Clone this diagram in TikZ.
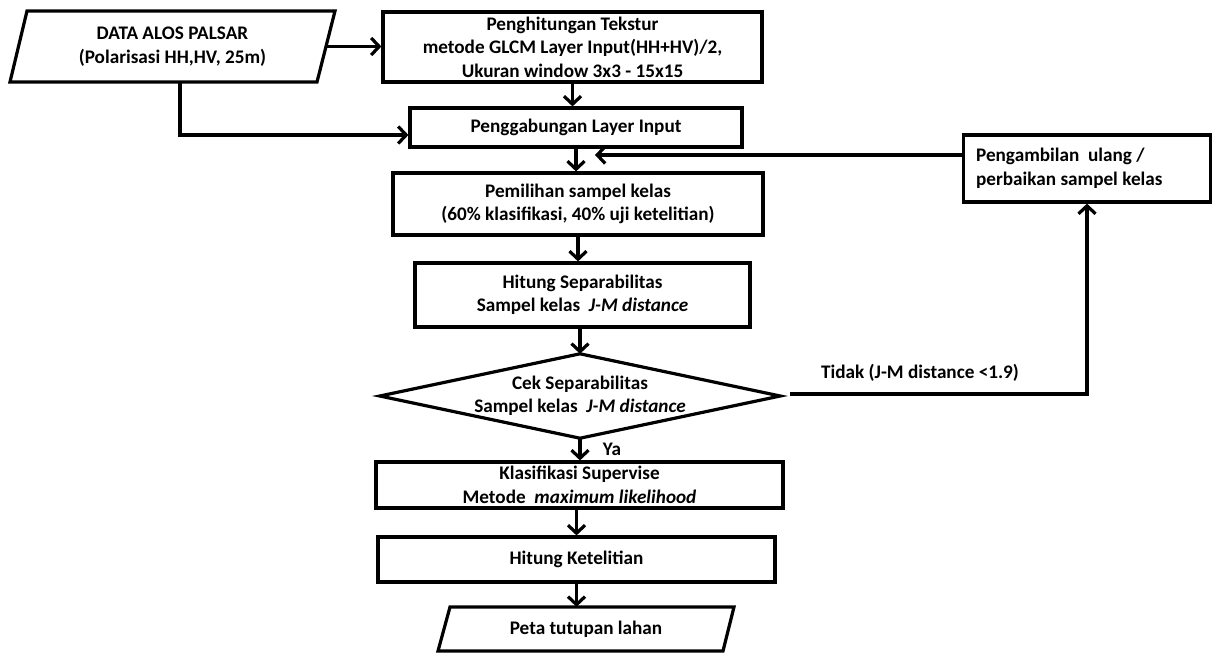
\documentclass[tikz,border=0pt]{standalone}
\usepackage{fontspec}
\setmainfont{Carlito}
\usetikzlibrary{arrows.meta}
\begin{document}
\begin{tikzpicture}[x=1pt,y=-1pt,
  lbl/.style={inner sep=0pt, align=center, font=\fontsize{19.2}{23.5}\selectfont\bfseries},
  box/.style={lbl, draw, line width=3.2pt},
  arr/.style={line width=3.2pt, -{Straight Barb[length=8pt,width=17pt,line width=3.2pt]}},
  ln/.style={line width=3.2pt, line join=miter}]
\useasboundingbox (0,0) rectangle (1214,653);

% input parallelogram
\node[lbl, minimum width=307.5pt, minimum height=71pt] (data) at (172.5,46.5)
  {DATA ALOS PALSAR\\(Polarisasi HH,HV, 25m)};
\draw[ln] (27,11) -- (335,11) -- (317,82) -- (10,82) -- cycle;

\node[box, minimum width=379pt, minimum height=70pt] (b1) at (572.5,47)
  {Penghitungan Tekstur\\metode GLCM Layer Input(HH+HV)/2,\\Ukuran window 3x3 - 15x15};
\node[box, minimum width=332pt, minimum height=39pt] (b2) at (576,127.5)
  {Penggabungan Layer Input};
\node[box, minimum width=370pt, minimum height=62pt] (b3) at (578,204)
  {Pemilihan sampel kelas\\(60\% klasifikasi, 40\% uji ketelitian)};
\node[box, minimum width=335pt, minimum height=64pt] (b4) at (582.5,295)
  {Hitung Separabilitas\\Sampel kelas~ \textit{J-M distance}};

% decision diamond
\node[lbl, minimum width=400pt, minimum height=84pt] (chk) at (580,396)
  {Cek Separabilitas\\Sampel kelas~ \textit{J-M distance}};
\draw[ln] (chk.north) -- (chk.east) -- (chk.south) -- (chk.west) -- cycle;

\node[box, minimum width=407pt, minimum height=46pt] (b5) at (579.5,485)
  {Klasifikasi Supervise\\Metode~ \textit{maximum likelihood}};
\node[box, minimum width=397pt, minimum height=45pt] (b6) at (576.5,559.5)
  {Hitung Ketelitian};

% output parallelogram
\node[lbl, minimum width=284.5pt, minimum height=45pt] (out) at (586,629.5)
  {Peta tutupan lahan};
\draw[ln] (450,607) -- (734,607) -- (723,651) -- (438,651) -- cycle;

% feedback box
\node[box, minimum width=247pt, minimum height=67pt] (peng) at (1087,168.5) {};
\node[lbl, align=left, anchor=west] (pengtxt) at ([xshift=14pt]peng.west)
  {Pengambilan\ \ ulang /\\perbaikan sampel kelas};

% labels
\node[lbl] (tidak) at (920,373) {Tidak (J-M distance <1.9)};
\node[lbl] (ya) at (612,449) {Ya};

% helper coordinates
\coordinate (j1) at (180,135);
\coordinate (fb) at (595,155);
\coordinate (t0) at (790,394);

% connectors
\draw[arr] (data.east) -- (data.east -| b1.west);
\draw[arr] (data.south -| j1) -- (j1) -- (j1 -| b2.west);
\draw[arr] (b1.south) -- (b1.south |- b2.north);
\draw[arr] (b2.south) -- (b2.south |- b3.north);
\draw[arr] (b3.south) -- (b3.south |- b4.north);
\draw[arr] (b4.south -| chk.north) -- (chk.north);
\draw[arr] (chk.south) -- (chk.south |- b5.north);
\draw[arr] (b5.south -| b6.north) -- (b6.north);
\draw[arr] (b6.south) -- (b6.south |- out.north);
\draw[arr, line join=miter] (t0) -| (peng.south);
\draw[arr] (peng.west |- fb) -- (fb);
\end{tikzpicture}
\end{document}
